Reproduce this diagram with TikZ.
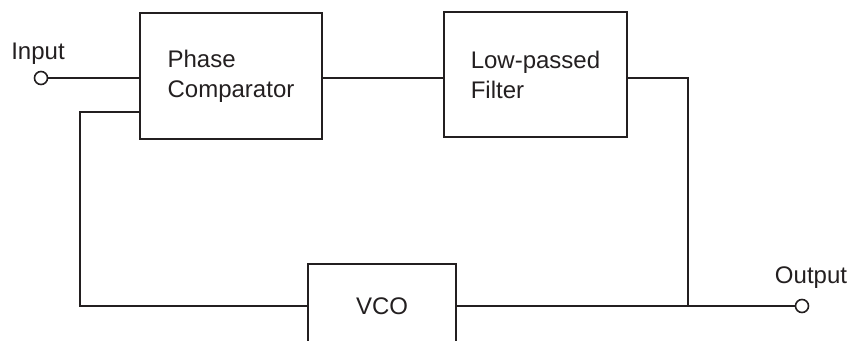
\documentclass[tikz,border=0pt]{standalone}
\usepackage{fontspec}
\setmainfont{Liberation Sans}
\usetikzlibrary{positioning, calc}
\definecolor{inkgray}{HTML}{231F20}

\begin{document}
\begin{tikzpicture}[x=1pt, y=-1pt,
  wire/.style={inkgray, line width=2pt},
  blockbox/.style={draw=inkgray, line width=2pt, inner sep=0pt, align=left,
    text=inkgray, font=\fontsize{24}{30}\selectfont},
  terminal/.style={circle, draw=inkgray, line width=1.6pt, fill=white,
    inner sep=0pt, minimum size=13pt},
  portlabel/.style={text=inkgray, font=\fontsize{24}{30}\selectfont, inner sep=0pt}]

% Canvas — same proportions as the reference, VCO box runs off the bottom edge
\useasboundingbox (0,0) rectangle (853,340);
\clip (0,0) rectangle (853,340);

% Blocks
\node[blockbox, minimum width=182pt, minimum height=126pt] (pc) at (231,76) {Phase\\Comparator};
\node[blockbox, minimum width=183pt, minimum height=125pt] (lpf) at (535.5,74.5) {Low-passed\\Filter};
\node[blockbox, minimum width=148pt, minimum height=84pt] (vco) at (382,306) {VCO};

% Terminals
\node[terminal] (in) at (41,78) {};
\node[terminal] (out) at (802,306) {};
\node[portlabel, anchor=base] (inlabel) at (38,59) {Input};
\node[portlabel, anchor=base] (outlabel) at (811,283) {Output};

% Corners of the loop
\coordinate (fbtop) at (80,112);
\coordinate (fbbot) at (80,306);
\coordinate (tapup) at (688,78);
\coordinate (tapdn) at (688,306);

% Forward path
\draw[wire] (in.east) -- (in.east -| pc.west);
\draw[wire] (pc.east |- 0,78) -- (lpf.west |- 0,78);
\draw[wire] (lpf.east |- tapup) -- (tapup) -- (tapdn);

% Feedback path through the VCO
\draw[wire] (pc.west |- fbtop) -- (fbtop) -- (fbbot) -- (vco.west);
\draw[wire] (vco.east) -- (out.west);

\end{tikzpicture}
\end{document}
